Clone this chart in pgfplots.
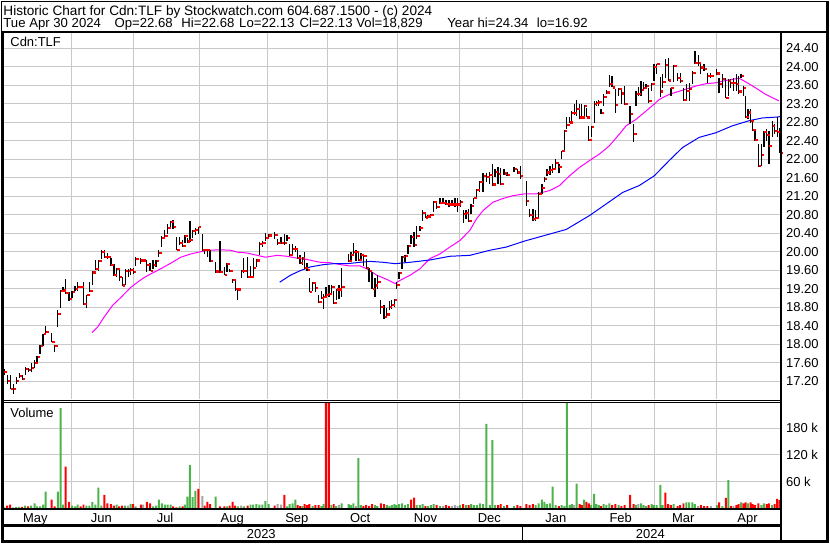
\documentclass[border=0pt]{standalone}
\usepackage{pgfplots}
\pgfplotsset{compat=1.18}
\usepackage{pgfplotstable}
\usepackage{fontspec}
\setmainfont{Liberation Sans}
\definecolor{gridc}{RGB}{200,200,200}
\definecolor{volg}{RGB}{76,180,76}
\definecolor{volr}{RGB}{255,0,0}
\definecolor{voln}{RGB}{165,165,165}
\definecolor{maA}{RGB}{255,0,255}
\definecolor{maB}{RGB}{0,0,255}
\pgfdeclareplotmark{closetick}{%
  \pgfpathrectangle{\pgfpoint{0.5pt}{-1.1pt}}{\pgfpoint{2.6pt}{2.2pt}}%
  \pgfusepathqfill}

\pgfplotstableread{
x h l c v d
2.7 17.47 17.33 17.40 4 0
6 17.33 17.15 17.21 7 -1
9 17.33 17.03 17.03 9 -1
12 17.15 16.92 17.03 3 0
15 17.29 17.15 17.21 4 1
18 17.37 17.26 17.32 4 1
21 17.33 17.24 17.25 4 -1
24 17.50 17.33 17.46 7 1
27 17.49 17.40 17.45 5 -1
30 17.60 17.39 17.49 7 1
33.5 17.65 17.48 17.60 12 1
36 17.75 17.62 17.73 5 1
39 17.98 17.78 17.96 5 1
42 18.23 17.96 18.22 9 1
44.5 18.39 18.25 18.26 38 1
50.5 18.25 18.04 18.04 20 -1
53.5 17.99 17.83 17.96 5 -1
56.7 18.73 18.37 18.65 38 1
59.5 19.18 18.78 19.15 224 1
62 19.23 19.13 19.16 9 1
64.5 19.41 19.09 19.11 94 -1
68 19.13 18.93 18.98 15 -1
71 19.16 19.00 19.13 7 1
74 19.26 19.15 19.19 5 1
76.5 19.34 19.16 19.23 9 1
79.5 19.25 19.21 19.23 5 -1
82.5 19.34 18.85 18.87 9 -1
85.5 19.06 18.78 19.06 7 1
88.5 19.34 19.13 19.15 7 1
91.5 19.58 19.29 19.55 15 1
94.5 19.82 19.62 19.63 9 1
97.5 19.81 19.58 19.80 47 1
100.5 20.03 19.85 20.00 7 1
103.5 20.04 19.87 19.89 31 -1
106.5 19.97 19.85 19.88 12 -1
110 19.86 19.70 19.72 10 -1
113 19.74 19.48 19.49 7 -1
115.7 19.64 19.45 19.62 9 1
118.3 19.61 19.36 19.46 5 -1
121.3 19.45 19.26 19.27 7 -1
124.3 19.63 19.29 19.59 7 1
127.3 19.63 19.45 19.59 7 0
129.7 19.64 19.49 19.61 11 1
132.3 19.65 19.51 19.56 10 -1
134.7 19.88 19.70 19.84 5 1
140 19.87 19.74 19.81 9 -1
142.3 19.83 19.77 19.81 9 0
146 19.81 19.56 19.72 15 -1
149.3 19.75 19.58 19.58 12 -1
152.3 19.81 19.63 19.72 5 1
155.3 19.81 19.67 19.80 7 1
158 20.04 19.88 19.97 20 1
161 20.33 20.11 20.29 12 1
164 20.47 20.30 20.34 9 1
167 20.59 20.39 20.51 9 1
170 20.67 20.50 20.64 9 1
172.3 20.69 20.49 20.53 5 -1
175.7 20.31 20.03 20.03 3 -1
179 20.31 20.15 20.18 5 1
182 20.26 20.10 20.12 5 -1
184.3 20.35 20.19 20.33 9 1
186.7 20.30 20.19 20.22 27 1
189.3 20.66 20.20 20.26 98 1
192 20.47 20.30 20.44 26 1
194.7 20.51 20.37 20.46 40 1
197.7 20.54 20.38 20.54 44 -1
201.7 20.38 20.03 20.04 28 0
204 20.06 19.94 20.04 7 -1
206.7 20.04 19.88 20.03 15 -1
209.5 20.04 19.77 19.80 10 -1
215 19.77 19.56 19.57 27 1
219.3 20.24 19.54 19.56 5 -1
223.7 19.67 19.49 19.49 5 -1
226.3 19.75 19.56 19.74 5 1
229 19.63 19.56 19.58 7 -1
232 19.40 19.32 19.39 15 -1
234.7 19.38 19.16 19.19 7 -1
237.3 19.20 18.95 19.18 5 1
240.7 19.60 19.44 19.58 7 0
243.3 19.87 19.54 19.58 5 1
247 19.88 19.45 19.46 7 -1
250 19.70 19.44 19.46 9 1
252.7 19.87 19.45 19.64 9 1
256 19.85 19.67 19.81 10 1
259 20.21 19.92 20.17 9 1
262 20.24 20.10 20.18 9 1
265 20.40 20.22 20.29 17 1
268.3 20.38 20.31 20.35 10 1
274.3 20.43 20.28 20.36 7 -1
277.3 20.28 20.15 20.19 10 0
280.7 20.31 20.17 20.18 9 0
284 20.38 20.15 20.18 31 -1
286.7 20.35 20.24 20.29 5 1
289.3 20.17 19.90 19.92 10 1
292.3 20.17 19.95 20.05 12 1
295 20.13 19.99 20.05 20 1
297.3 20.06 19.85 19.86 8 -1
299.7 19.93 19.74 19.75 6 -1
302 19.88 19.72 19.85 6 1
304.3 19.99 19.63 19.64 10 -1
306.7 19.76 19.59 19.61 8 -1
309 19.44 19.13 19.13 10 -1
312.3 19.34 19.16 19.32 6 1
315 19.31 19.13 19.21 8 -1
318.3 19.06 18.90 18.91 8 -1
321 19.16 18.98 18.99 6 1
323.3 19.09 18.77 19.02 10 1
325.6 19.23 19.06 19.07 240 -1
328.7 19.27 19.02 19.09 240 -1
331.2 19.27 19.09 19.23 8 1
333.5 19.16 18.88 18.89 10 -1
336 19.20 18.95 19.18 6 1
338.7 19.27 18.98 19.18 8 0
341.3 19.64 19.02 19.23 12 1
348.3 19.95 19.77 19.80 10 1
350.7 19.99 19.77 19.92 8 1
353.3 20.19 19.95 19.99 12 1
355.7 20.03 19.79 19.99 6 0
358.3 19.99 19.81 19.82 113 1
360.7 19.97 19.85 19.93 8 1
363.3 19.92 19.70 19.90 6 -1
366 19.85 19.63 19.65 8 -1
369 19.64 19.34 19.59 6 -1
372 19.56 19.20 19.20 10 -1
375 19.43 19.02 19.27 8 1
377.3 19.49 19.20 19.34 6 1
380.7 18.95 18.66 18.80 12 -1
384 18.84 18.55 18.59 10 -1
386.7 18.78 18.61 18.64 8 1
389.3 18.93 18.73 18.80 6 1
391.7 18.95 18.77 18.84 8 1
394.3 18.97 18.80 18.95 10 1
396.5 19.34 19.20 19.28 8 1
399 19.56 19.41 19.54 10 1
402 19.90 19.63 19.88 12 1
405 19.92 19.77 19.90 8 1
408 20.15 19.94 20.13 10 1
411 20.35 20.17 20.31 20 -1
414 20.42 20.10 20.15 25 -1
416.7 20.56 20.28 20.33 8 1
420 20.56 20.44 20.51 8 1
422.7 20.89 20.67 20.84 10 1
425.3 20.83 20.72 20.74 6 -1
428 20.80 20.74 20.76 6 1
431 20.82 20.76 20.79 8 1
433.7 21.10 20.85 21.07 10 1
436.7 21.10 20.92 20.96 8 -1
440 21.16 21.02 21.05 6 1
443 21.16 21.02 21.05 6 0
446 21.12 21.00 21.03 8 -1
449 21.12 20.96 21.02 6 -1
452 21.12 21.00 21.02 6 0
455 21.16 20.96 21.02 8 0
457.7 21.16 20.85 21.02 6 0
460.3 21.12 20.96 21.07 8 1
463.3 20.89 20.61 20.82 10 -1
466 20.89 20.71 20.83 8 1
468.7 20.92 20.65 20.67 8 -1
471.3 21.03 20.81 20.99 10 1
474 21.17 21.03 21.16 8 1
477 21.35 21.17 21.33 8 1
480 21.52 21.28 21.50 12 1
483.3 21.71 21.28 21.64 10 1
486.7 21.71 21.50 21.62 189 1
490 21.73 21.46 21.66 8 1
492.7 21.89 21.43 21.45 153 1
495.3 21.78 21.61 21.73 8 1
498.3 21.82 21.46 21.68 8 -1
501 21.81 21.44 21.46 10 -1
504.3 21.78 21.66 21.69 6 1
507.3 21.73 21.64 21.66 8 -1
514.3 21.82 21.73 21.78 6 1
517.7 21.78 21.68 21.71 8 -1
520.7 21.86 21.57 21.64 6 -1
526.7 21.53 20.99 21.09 10 -1
530 20.92 20.74 20.80 8 -1
533.3 20.92 20.67 20.71 10 -1
536 20.89 20.67 20.72 8 1
539 21.28 20.74 21.25 12 1
542.3 21.46 21.25 21.38 20 1
544.7 21.62 21.50 21.57 15 1
547.3 21.78 21.64 21.71 10 1
550.3 21.86 21.66 21.76 12 1
553 21.89 21.71 21.78 49 1
556 22.00 21.78 21.91 8 1
559.3 21.89 21.69 21.83 6 -1
562 22.18 22.00 22.17 8 1
564.7 22.63 22.19 22.61 6 1
567.3 22.90 22.65 22.74 240 1
570 22.90 22.79 22.79 8 1
572.3 23.04 22.79 23.00 10 1
574.7 23.20 22.95 23.00 8 0
577 23.27 22.93 23.08 56 1
580 23.19 22.86 22.90 10 -1
582.3 23.20 22.86 22.90 8 -1
584.7 23.16 22.90 23.14 20 1
587 23.11 22.90 22.90 15 -1
589.3 22.72 22.40 22.42 12 -1
591.7 22.72 22.47 22.70 8 1
594.7 23.26 22.79 23.20 33 1
597 23.26 23.15 23.21 10 1
599.3 23.27 23.15 23.24 8 1
601.7 23.08 22.97 23.00 6 -1
604.3 23.40 23.15 23.35 10 1
607 23.49 23.42 23.44 8 1
610 23.82 23.56 23.62 12 1
612.7 23.80 23.55 23.55 8 -1
616 23.51 23.00 23.17 10 -1
619.3 23.54 23.36 23.52 8 1
622 23.54 23.19 23.42 6 -1
625.3 23.58 23.19 23.20 8 -1
630.7 23.15 22.77 22.97 31 -1
634.3 22.77 22.38 22.55 10 -1
636.7 23.47 23.15 23.40 8 1
639 23.56 23.37 23.40 10 0
641.7 23.69 23.37 23.49 12 1
644.3 23.67 23.47 23.53 8 1
646.7 23.62 23.51 23.58 6 1
649.3 23.53 23.22 23.26 8 -1
652.3 23.65 23.47 23.62 10 1
654.7 24.05 23.69 23.99 8 1
657.3 24.06 23.83 24.06 8 1
661 23.78 23.34 23.46 53 1
663.3 23.85 23.54 23.67 8 1
666 24.16 23.75 24.03 36 -1
669 24.19 23.69 23.70 10 -1
671.7 23.54 23.37 23.53 8 -1
674.3 24.03 23.67 24.01 10 1
678.3 23.87 23.69 23.75 6 -1
681 23.87 23.65 23.69 8 -1
684.3 23.54 23.26 23.28 12 -1
687.3 23.62 23.29 23.47 14 1
690 23.65 23.26 23.51 14 1
693.3 23.90 23.62 23.87 14 1
695.7 24.34 24.05 24.08 10 1
699 24.26 24.01 24.08 6 0
701.7 24.08 23.83 23.98 8 -1
705 24.05 23.90 23.94 6 -1
708.3 23.87 23.65 23.80 6 -1
711.7 23.87 23.76 23.80 6 0
717.7 23.94 23.83 23.85 8 1
720 23.76 23.44 23.63 14 -1
723.3 23.83 23.54 23.73 6 1
726.7 23.76 23.33 23.33 24 -1
729.3 23.73 23.37 23.69 64 1
731.7 23.73 23.54 23.65 6 -1
734.3 23.76 23.47 23.65 6 0
737.3 23.83 23.47 23.62 8 -1
739.7 23.80 23.40 23.46 10 -1
742 23.83 23.76 23.80 14 1
744.3 23.58 23.37 23.54 12 -1
746.7 23.37 22.90 22.91 14 -1
749 23.08 22.86 23.01 12 1
751.7 23.08 22.79 22.83 14 -1
753.7 22.83 22.61 22.63 10 -1
756 22.61 22.40 22.42 8 -1
759.3 22.32 21.82 21.86 12 -1
762.3 22.32 21.86 22.09 8 1
765 22.61 22.27 22.58 12 1
767.7 22.65 22.40 22.53 10 -1
770 22.61 21.89 22.29 12 -1
773.3 22.83 22.47 22.72 8 1
775.7 22.76 22.54 22.60 10 -1
778.3 22.90 22.47 22.58 22 -1
780.7 22.68 22.13 22.13 19 -1
}\bars

\pgfplotstableread{
x p
91 18.25
96.7 18.37
103.3 18.59
111.7 18.84
120 19.01
130 19.23
136.7 19.34
143.3 19.44
150 19.52
160 19.63
170 19.75
180 19.88
190 19.95
198.3 19.99
206.7 20.03
220 20.04
230 20.03
236.7 19.99
246.7 19.97
256.7 19.92
265 19.88
276.7 19.92
286.7 19.90
296.7 19.86
306.7 19.83
320 19.77
330 19.76
340 19.72
350 19.69
360 19.69
366.7 19.63
376.7 19.49
386.7 19.40
395 19.31
400 19.38
410 19.49
420 19.63
430 19.85
440 19.95
450 20.10
460 20.24
470 20.46
476.7 20.71
483.3 20.89
493.3 21.07
503.3 21.15
513.3 21.21
525 21.25
536.7 21.25
550 21.32
560 21.43
570 21.64
580 21.82
590 21.97
600 22.11
610 22.29
620 22.54
626.7 22.72
636.7 22.86
646.7 23.04
655 23.19
660 23.29
670 23.40
683.3 23.49
696.7 23.58
706.7 23.63
716.7 23.65
726.7 23.70
740 23.75
746.7 23.67
756.7 23.54
766.7 23.40
780 23.26
}\maAt

\pgfplotstableread{
x p
279.3 19.34
290 19.49
300 19.59
310 19.67
323.3 19.72
333.3 19.74
346.7 19.74
360 19.77
370 19.79
383.3 19.77
395 19.74
410 19.77
430 19.82
450 19.90
470 19.92
490 20.03
506.7 20.10
525 20.23
545 20.35
566.7 20.48
590 20.78
606.7 21.03
623.3 21.28
640 21.43
655 21.64
670 21.97
683.3 22.25
700 22.47
716.7 22.57
733.3 22.72
750 22.83
763.3 22.89
778.3 22.91
781 22.92
}\maBt

\begin{document}
\fontsize{13}{15}\selectfont
\begin{tikzpicture}[x=1pt,y=1pt]
\fill[white] (0,0) rectangle (830,543);

\begin{axis}[
  at={(2pt,512pt)}, anchor=north west,
  scale only axis, width=780pt, height=368pt,
  xmin=2, xmax=782, ymin=16.814, ymax=24.745,
  axis line style={draw=none},
  xtick={70,133,199,267,327,397,460,523,592,655,717},
  xticklabels={},
  ytick={17.2,17.6,18.0,18.4,18.8,19.2,19.6,20.0,20.4,20.8,21.2,21.6,22.0,22.4,22.8,23.2,23.6,24.0,24.4},
  yticklabel pos=right,
  major tick length=0pt,
  grid=major,
  major grid style={draw=gridc, line width=0.9pt},
  scaled y ticks=false,
  yticklabel style={anchor=west, inner sep=0pt, xshift=5pt, font=\fontsize{13}{15}\selectfont,
    /pgf/number format/fixed, /pgf/number format/fixed zerofill,
    /pgf/number format/precision=2, /pgf/number format/assume math mode=true},
]
\addplot[maA, line width=1pt, no marks] table[x=x,y=p]{\maAt};
\addplot[maB, line width=1pt, no marks] table[x=x,y=p]{\maBt};
\addplot[color=red, only marks, mark=closetick,
  error bars/y dir=both, error bars/y explicit, error bars/error mark=none,
  error bars/error bar style={black, line width=1.3pt}]
  table[x=x, y=c, y error plus expr=\thisrow{h}-\thisrow{c}, y error minus expr=\thisrow{c}-\thisrow{l}] {\bars};
\end{axis}

\begin{axis}[
  at={(2pt,140pt)}, anchor=north west,
  scale only axis, width=780pt, height=106pt,
  xmin=2, xmax=782, ymin=0, ymax=235.6,
  axis line style={draw=none},
  xtick={70,133,199,267,327,397,460,523,592,655,717},
  xticklabels={},
  ytick={60,120,180}, yticklabels={60 k,120 k,180 k},
  yticklabel pos=right,
  major tick length=0pt,
  grid=major,
  major grid style={draw=gridc, line width=0.9pt},
  yticklabel style={anchor=west, inner sep=0pt, xshift=5pt, font=\fontsize{13}{15}\selectfont},
  ybar, bar width=2pt,
]
\addplot[fill=volg, draw=none, bar shift=0pt, restrict expr to domain={\thisrow{d}}{0.5:1.5}] table[x=x,y=v]{\bars};
\addplot[fill=volr, draw=none, bar shift=0pt, restrict expr to domain={\thisrow{d}}{-1.5:-0.5}] table[x=x,y=v]{\bars};
\addplot[fill=voln, draw=none, bar shift=0pt, restrict expr to domain={\thisrow{d}}{-0.5:0.5}] table[x=x,y=v]{\bars};
\end{axis}

% frame
\draw[line width=1pt] (0.5,0.5) rectangle (829.5,542.5);
\draw[line width=2pt] (0,512) -- (830,512);
\draw[line width=2.5pt] (1.2,512) -- (1.2,1);
\draw[line width=2.5pt] (782,512) -- (782,1);
\draw[line width=2.5pt] (828.7,543) -- (828.7,0);
\draw[line width=2.5pt] (0,1.8) -- (830,1.8);
\draw[line width=1pt] (0,143) -- (782,143);
\draw[line width=1pt] (0,140.5) -- (782,140.5);
\draw[line width=2.5pt] (0,33.5) -- (782,33.5);
\draw[line width=2.5pt] (0,17) -- (782,17);
\draw[line width=1.5pt] (523,17) -- (523,2);

% header
\node[anchor=base west, inner sep=0pt, font=\fontsize{13.65}{15}\selectfont] at (2,529) {Historic Chart for Cdn:TLF by Stockwatch.com 604.687.1500 - (c) 2024};
\begingroup
\fontsize{13.2}{15}\selectfont
\node[anchor=base west, inner sep=0pt] at (2,516.3) {Tue Apr 30 2024};
\node[anchor=base west, inner sep=0pt] at (113.5,516.3) {Op=22.68};
\node[anchor=base west, inner sep=0pt] at (180.5,516.3) {Hi=22.68};
\node[anchor=base west, inner sep=0pt] at (238.5,516.3) {Lo=22.13};
\node[anchor=base west, inner sep=0pt] at (299,516.3) {Cl=22.13};
\node[anchor=base west, inner sep=0pt] at (356,516.3) {Vol=18,829};
\node[anchor=base west, inner sep=0pt] at (447.3,516.3) {Year hi=24.34};
\node[anchor=base west, inner sep=0pt] at (537,516.3) {lo=16.92};
\endgroup

\node[anchor=base west, inner sep=0pt] at (9,497.3) {Cdn:TLF};
\node[anchor=base west, inner sep=0pt] at (9,125.7) {Volume};

% months
\foreach \m/\xx in {May/34.3,Jun/100.5,Jul/164.3,Aug/231.7,Sep/296.5,Oct/360,Nov/425.5,Dec/489.5,Jan/556.3,Feb/621.3,Mar/684,Apr/748.5}
  \node[anchor=base, inner sep=0pt] at (\xx,20.3) {\m};
\node[anchor=base, inner sep=0pt] at (260.8,3.7) {2023};
\node[anchor=base, inner sep=0pt] at (651,3.7) {2024};
\end{tikzpicture}
\end{document}
